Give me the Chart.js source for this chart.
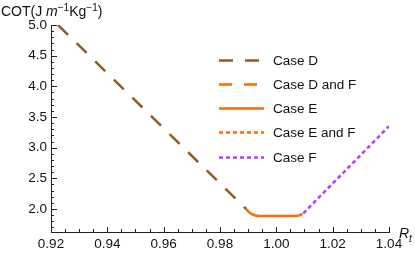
<!DOCTYPE html>
<html>
<head>
<meta charset="utf-8">
<script src="https://cdn.jsdelivr.net/npm/chart.js@4.4.1/dist/chart.umd.min.js"></script>
<style>
    body { margin: 0; background: #fff; }
    #wrap { width: 415px; height: 256px; }
</style>
</head>
<body>
<div id="wrap"><canvas id="cotChart" width="415" height="256"></canvas></div>
<script>
// series names, in legend order
const seriesLabels = ['Case D', 'Case D and F', 'Case E', 'Case E and F', 'Case F'];

// values (x = R_t, y = COT)
const caseDX = [0.9225, 0.9893];
const caseDY = [5.0, 2.0];
const caseDFX = [];
const caseDFY = [];
const caseEX = [0.9893, 0.9903, 0.9913, 0.9925, 0.994, 1.007, 1.008];
const caseEY = [2.0, 1.95, 1.915, 1.895, 1.887, 1.887, 1.893];
const caseEFX = [1.008, 1.0096];
const caseEFY = [1.893, 1.93];
const caseFX = [1.0096, 1.04];
const caseFY = [1.93, 3.35];

// tick labels
const xTickLabels = ['0.92', '0.94', '0.96', '0.98', '1.00', '1.02', '1.04'];
const yTickLabels = ['2.0', '2.5', '3.0', '3.5', '4.0', '4.5', '5.0'];

const FONT = '"Liberation Sans", Arial, sans-serif';
const BROWN = '#8f5c22';
const ORANGE = '#ff6a00';
const PURPLE = '#b23cff';

function toPoints(xs, ys) {
    return xs.map((x, i) => ({x: x, y: ys[i]}));
}

function findLabel(list, v) {
    const hit = list.find(l => Math.abs(parseFloat(l) - v) < 1e-6);
    return hit || '';
}

// inward tick marks, like the original axes
const tickMarks = {
    id: 'tickMarks',
    afterDraw(chart) {
        const ctx = chart.ctx;
        const xs = chart.scales.x;
        const ys = chart.scales.y;
        const area = chart.chartArea;
        ctx.save();
        ctx.strokeStyle = '#222';
        ctx.lineWidth = 1;
        ctx.beginPath();
        xs.ticks.forEach(t => {
            if (t.value < xs.min - 1e-9 || t.value > xs.max + 1e-9) return;
            const px = Math.round(xs.getPixelForValue(t.value)) + 0.5;
            const len = findLabel(xTickLabels, t.value) ? 5 : 3;
            ctx.moveTo(px, area.bottom);
            ctx.lineTo(px, area.bottom - len);
        });
        ys.ticks.forEach(t => {
            if (t.value < ys.min - 1e-9 || t.value > ys.max + 1e-9) return;
            const py = Math.round(ys.getPixelForValue(t.value)) + 0.5;
            const len = findLabel(yTickLabels, t.value) ? 6 : 3;
            ctx.moveTo(area.left, py);
            ctx.lineTo(area.left + len, py);
        });
        ctx.stroke();
        ctx.restore();
    }
};

function drawPieces(ctx, x, y, pieces) {
    pieces.forEach(p => {
        ctx.font = p.font;
        ctx.fillText(p.text, x, y + (p.dy || 0));
        x += ctx.measureText(p.text).width;
    });
}

// axis titles and the legend placed inside the plot
const extras = {
    id: 'extras',
    afterDraw(chart) {
        const ctx = chart.ctx;
        ctx.save();
        ctx.fillStyle = '#111';
        ctx.textBaseline = 'alphabetic';
        ctx.textAlign = 'left';

        drawPieces(ctx, 1, 16, [
            {text: 'COT(J ', font: '14px ' + FONT},
            {text: 'm', font: 'italic 14px ' + FONT},
            {text: '\u22121', font: '10px ' + FONT, dy: -5},
            {text: 'Kg', font: '14px ' + FONT},
            {text: '\u22121', font: '10px ' + FONT, dy: -5},
            {text: ')', font: '14px ' + FONT}
        ]);

        drawPieces(ctx, 399, 238, [
            {text: 'R', font: 'italic 14px ' + FONT},
            {text: 't', font: 'italic 10px ' + FONT, dy: 4}
        ]);

        // legend
        const rowY = [60, 84, 108, 132, 157];
        chart.data.datasets.forEach((ds, i) => {
            const y = rowY[i] + 0.5;
            ctx.save();
            ctx.strokeStyle = ds.borderColor;
            ctx.lineWidth = ds.borderWidth;
            ctx.setLineDash(ds.borderDash || []);
            ctx.beginPath();
            ctx.moveTo(219, y);
            ctx.lineTo(264, y);
            ctx.stroke();
            ctx.restore();
            ctx.font = '13.5px ' + FONT;
            ctx.textBaseline = 'middle';
            ctx.fillText(ds.label, 273, rowY[i] + 1);
        });
        ctx.restore();
    }
};

function makeSet(i, xs, ys, color, dash, smooth) {
    return {
        label: seriesLabels[i],
        data: toPoints(xs, ys),
        showLine: true,
        borderColor: color,
        backgroundColor: color,
        borderWidth: 2.5,
        borderDash: dash,
        pointRadius: 0,
        cubicInterpolationMode: smooth ? 'monotone' : 'default',
        tension: 0
    };
}

const ctx = document.getElementById('cotChart').getContext('2d');
new Chart(ctx, {
    type: 'scatter',
    data: {
        datasets: [
            makeSet(0, caseDX, caseDY, BROWN, [14, 12], false),
            makeSet(1, caseDFX, caseDFY, ORANGE, [13, 12], false),
            makeSet(2, caseEX, caseEY, ORANGE, [], true),
            makeSet(3, caseEFX, caseEFY, ORANGE, [4, 3], false),
            makeSet(4, caseFX, caseFY, PURPLE, [4, 3], false)
        ]
    },
    options: {
        responsive: false,
        animation: false,
        devicePixelRatio: 1,
        layout: {
            padding: {left: 0, right: 26, top: 25, bottom: 0}
        },
        plugins: {
            legend: {display: false},
            tooltip: {enabled: false}
        },
        scales: {
            x: {
                type: 'linear',
                min: 0.92,
                max: 1.04,
                afterFit(scale) { scale.height = 24; },
                grid: {display: true, drawOnChartArea: false, drawTicks: false},
                border: {display: true, color: '#222', width: 1},
                ticks: {
                    stepSize: 0.005,
                    autoSkip: false,
                    maxRotation: 0,
                    padding: 4,
                    color: '#111',
                    font: {family: FONT, size: 13.5},
                    callback: v => findLabel(xTickLabels, v)
                }
            },
            y: {
                type: 'linear',
                min: 1.625,
                max: 5.0,
                afterFit(scale) { scale.width = 51; },
                grid: {display: true, drawOnChartArea: false, drawTicks: false},
                border: {display: true, color: '#222', width: 1},
                ticks: {
                    stepSize: 0.1,
                    includeBounds: false,
                    autoSkip: false,
                    padding: 4,
                    color: '#111',
                    font: {family: FONT, size: 13.5},
                    callback: v => findLabel(yTickLabels, v)
                }
            }
        }
    },
    plugins: [tickMarks, extras]
});
</script>
</body>
</html>
